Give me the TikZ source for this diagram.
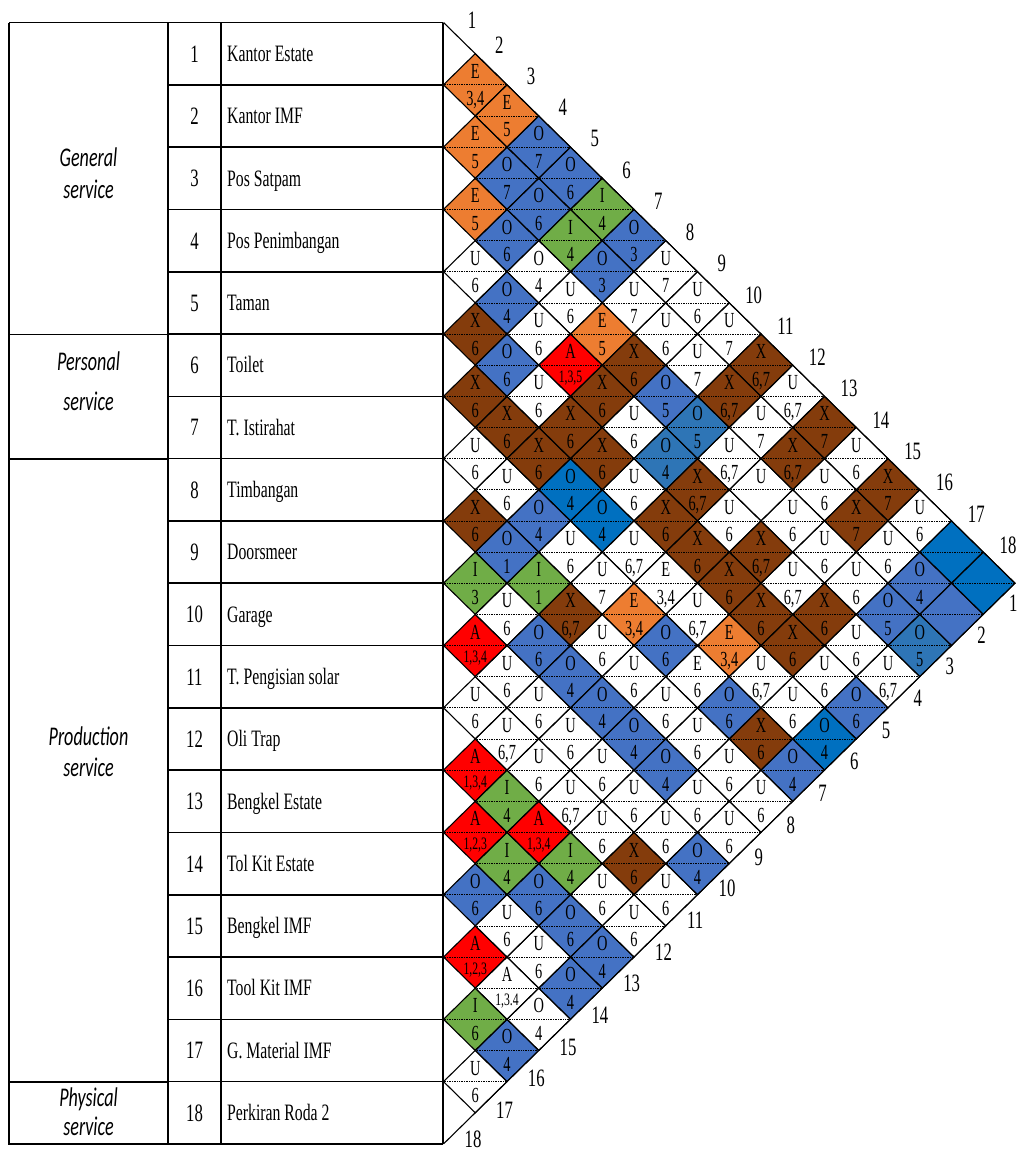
\documentclass[tikz,border=0pt]{standalone}
\usepackage{fontspec}
\usepackage{graphicx}
\setmainfont{Liberation Serif}[FakeStretch=0.67]
\newfontfamily\grpfont{Carlito}[FakeStretch=0.67]
\definecolor{cor}{HTML}{ED7D31}
\definecolor{cbl}{HTML}{4472C4}
\definecolor{cdb}{HTML}{0070C0}
\definecolor{cmb}{HTML}{2E75B6}
\definecolor{cgr}{HTML}{70AD47}
\definecolor{cbr}{HTML}{843C0C}
\definecolor{crd}{HTML}{FF0000}
\newcommand\smr[1]{\raisebox{4pt}{\fontsize{17.5}{17.5}\selectfont #1}}
\tikzset{
  tbl/.style={line width=1.6pt},
  dia/.style={draw=black, line width=1.1pt},
  midline/.style={densely dotted, line width=0.7pt},
  lett/.style={font=\fontsize{21.5}{21.5}\selectfont, inner sep=0pt, anchor=base},
  reas/.style={font=\fontsize{21.5}{21.5}\selectfont, inner sep=0pt, anchor=base},
  numtxt/.style={font=\fontsize{25}{25}\selectfont, inner sep=0pt, anchor=base},
  nametxt/.style={font=\fontsize{23.5}{23.5}\selectfont, inner sep=0pt, anchor=base west},
  grptxt/.style={font=\grpfont\itshape\fontsize{27}{27}\selectfont, inner sep=0pt, anchor=base},
  edgelab/.style={font=\fontsize{25}{25}\selectfont, inner sep=0pt, anchor=center}
}
\def\diadata{1/2/E/{3,4}/cor, 1/3/E/5/cor, 1/4/O/7/cbl, 1/5/O/6/cbl, 1/6/I/4/cgr, 1/7/O/3/cbl, 1/8/U/7/white, 1/9/U/6/white, 1/10/U/7/white, 1/11/X/{6,7}/cbr, 1/12/U/{6,7}/white, 1/13/X/7/cbr, 1/14/U/6/white, 1/15/X/7/cbr, 1/16/U/6/white, 1/17/{}/{}/cdb, 1/18/{}/{}/cdb,
2/3/E/5/cor, 2/4/O/7/cbl, 2/5/O/6/cbl, 2/6/I/4/cgr, 2/7/O/3/cbl, 2/8/U/7/white, 2/9/U/6/white, 2/10/U/7/white, 2/11/X/{6,7}/cbr, 2/12/U/7/white, 2/13/X/{6,7}/cbr, 2/14/U/6/white, 2/15/X/7/cbr, 2/16/U/6/white, 2/17/O/4/cbl, 2/18/{}/{}/cbl,
3/4/E/5/cor, 3/5/O/6/cbl, 3/6/O/4/white, 3/7/U/6/white, 3/8/E/5/cor, 3/9/X/6/cbr, 3/10/O/5/cbl, 3/11/O/5/cmb, 3/12/U/{6,7}/white, 3/13/U/{}/white, 3/14/U/6/white, 3/15/U/6/white, 3/16/U/6/white, 3/17/O/5/cbl, 3/18/O/5/cmb,
4/5/U/6/white, 4/6/O/4/cbl, 4/7/U/6/white, 4/8/A/{\smr{1,3,5}}/crd, 4/9/X/6/cbr, 4/10/U/6/white, 4/11/O/4/cmb, 4/12/X/{6,7}/cbr, 4/13/U/6/white, 4/14/X/{6,7}/cbr, 4/15/U/{6,7}/white, 4/16/X/6/cbr, 4/17/U/6/white, 4/18/U/{6,7}/white,
5/6/X/6/cbr, 5/7/O/6/cbl, 5/8/U/6/white, 5/9/X/6/cbr, 5/10/X/6/cbr, 5/11/U/6/white, 5/12/X/6/cbr, 5/13/X/6/cbr, 5/14/X/6/cbr, 5/15/X/6/cbr, 5/16/X/6/cbr, 5/17/U/6/white, 5/18/O/6/cbl,
6/7/X/6/cbr, 6/8/X/6/cbr, 6/9/X/6/cbr, 6/10/O/4/cdb, 6/11/O/4/cdb, 6/12/U/{6,7}/white, 6/13/E/{3,4}/white, 6/14/U/{6,7}/white, 6/15/E/{3,4}/cor, 6/16/U/{6,7}/white, 6/17/U/6/white, 6/18/O/4/cdb,
7/8/U/6/white, 7/9/U/6/white, 7/10/O/4/cbl, 7/11/U/6/white, 7/12/U/7/white, 7/13/E/{3,4}/cor, 7/14/O/6/cbl, 7/15/E/6/white, 7/16/O/6/cbl, 7/17/X/6/cbr, 7/18/O/4/cbl,
8/9/X/6/cbr, 8/10/O/1/cbl, 8/11/I/1/cgr, 8/12/X/{6,7}/cbr, 8/13/U/6/white, 8/14/U/6/white, 8/15/U/6/white, 8/16/U/6/white, 8/17/U/6/white, 8/18/U/6/white,
9/10/I/3/cgr, 9/11/U/6/white, 9/12/O/6/cbl, 9/13/O/4/cbl, 9/14/O/4/cbl, 9/15/O/4/cbl, 9/16/O/4/cbl, 9/17/U/6/white, 9/18/U/6/white,
10/11/A/{\smr{1,3,4}}/crd, 10/12/U/6/white, 10/13/U/6/white, 10/14/U/6/white, 10/15/U/6/white, 10/16/U/6/white, 10/17/U/6/white, 10/18/O/4/cbl,
11/12/U/6/white, 11/13/U/{6,7}/white, 11/14/U/6/white, 11/15/U/{6,7}/white, 11/16/U/6/white, 11/17/X/6/cbr, 11/18/U/6/white,
12/13/A/{\smr{1,3,4}}/crd, 12/14/I/4/cgr, 12/15/A/{\smr{1,3,4}}/crd, 12/16/I/4/cgr, 12/17/U/6/white, 12/18/U/6/white,
13/14/A/{\smr{1,2,3}}/crd, 13/15/I/4/cgr, 13/16/O/6/cbl, 13/17/O/6/cbl, 13/18/O/4/cbl,
14/15/O/6/cbl, 14/16/U/6/white, 14/17/U/6/white, 14/18/O/4/cbl,
15/16/A/{\smr{1,2,3}}/crd, 15/17/A/{\smr{1,3.4}}/white, 15/18/O/4/white,
16/17/I/6/cgr, 16/18/O/4/cbl,
17/18/U/6/white}
\begin{document}
\begin{tikzpicture}[x=1pt,y=-1pt]
\useasboundingbox (0,0) rectangle (1021,1151);
\def\Xo{443.5}\def\T{22.5}\def\H{62.3}\def\hw{31.75}\def\hh{31.15}
% table
\draw[tbl] (9,22.5) -- (443,22.5);
\draw[tbl] (9,22.5) -- (9,1144) -- (443,1144);
\foreach \yy in {334.5,459,1082} \draw[tbl] (9,\yy) -- (168,\yy);
\foreach \xx in {168,221,443} \draw[tbl] (\xx,22.5) -- (\xx,1144);
\foreach \k in {1,...,17} \draw[tbl] (168,{\T+\k*\H}) -- (443,{\T+\k*\H});
\foreach \k/\nm in {1/Kantor Estate, 2/Kantor IMF, 3/Pos Satpam, 4/Pos Penimbangan, 5/Taman, 6/Toilet, 7/T. Istirahat, 8/Timbangan, 9/Doorsmeer, 10/Garage, 11/T. Pengisian solar, 12/Oli Trap, 13/Bengkel Estate, 14/Tol Kit Estate, 15/Bengkel IMF, 16/Tool Kit IMF, 17/G. Material IMF, 18/Perkiran Roda 2}{
  \node[numtxt] (n\k) at (194.5,{\T+(\k-0.5)*\H+8.5}) {\k};
  \node[nametxt] (m\k) at (227,{\T+(\k-0.5)*\H+7.8}) {\nm};
}
\node[grptxt] (g1a) at (88.5,166.7) {General};
\node[grptxt] (g1b) at (88.5,198.3) {service};
\node[grptxt] (g2a) at (88.5,370) {Personal};
\node[grptxt] (g2b) at (88.5,410) {service};
\node[grptxt] (g3a) at (88.5,745) {Production};
\node[grptxt] (g3b) at (88.5,776.7) {service};
\node[grptxt] (g4a) at (88.5,1106.7) {Physical};
\node[grptxt] (g4b) at (88.5,1135) {service};
% diamonds: fills and mid lines
\foreach \i/\j/\L/\R/\C in \diadata {
  \pgfmathsetmacro\cx{\Xo+(\j-\i)*\hw}
  \pgfmathsetmacro\cy{\T+(\i+\j-1)*\hh}
  \fill[\C] (\cx-\hw,\cy) -- (\cx,\cy-\hh) -- (\cx+\hw,\cy) -- (\cx,\cy+\hh) -- cycle;
  \draw[midline] (\cx-\hw,\cy) -- (\cx+\hw,\cy);
}
% diamonds: borders and texts
\foreach \i/\j/\L/\R/\C in \diadata {
  \pgfmathsetmacro\cx{\Xo+(\j-\i)*\hw}
  \pgfmathsetmacro\cy{\T+(\i+\j-1)*\hh}
  \draw[dia] (\cx-\hw,\cy) -- (\cx,\cy-\hh) -- (\cx+\hw,\cy) -- (\cx,\cy+\hh) -- cycle;
  \node[lett] (l\i-\j) at (\cx,\cy-6.5) {\L};
  \node[reas] (r\i-\j) at (\cx,\cy+21) {\R};
}
\draw[dia] (\Xo,\T) -- (1015,583.2) -- (\Xo,1143.9);
% edge labels
\node[edgelab] (t1) at (472,20) {1};
\foreach \k in {2,...,18} \node[edgelab] (t\k) at ({499.3+31.8*(\k-2)},{45+31.25*(\k-2)}) {\k};
\foreach \m in {1,...,17} \node[edgelab] (b\m) at ({1013.3-31.8*(\m-1)},{603.3+31.7*(\m-1)}) {\m};
\node[edgelab] (b18) at (473,1139) {18};
\end{tikzpicture}
\end{document}
